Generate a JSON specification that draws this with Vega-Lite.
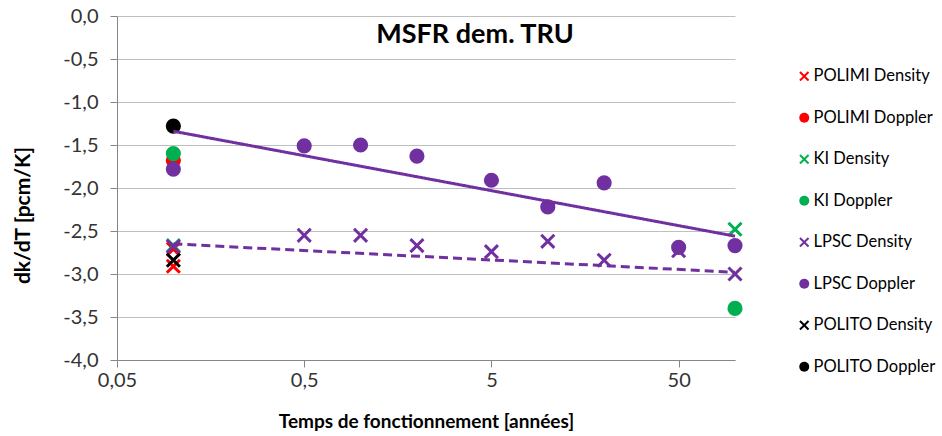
{
  "$schema": "https://vega.github.io/schema/vega-lite/v6.json",
  "width": 618,
  "height": 344,
  "autosize": {"type": "none"},
  "padding": {"left": 117, "top": 16, "right": 207, "bottom": 76},
  "background": "white",
  "config": {
    "font": "Lato",
    "view": {"stroke": null},
    "axis": {"labelFont": "Lato", "titleFont": "Lato", "labelColor": "#333333", "titleColor": "#000000"}
  },
  "title": {
    "text": "MSFR dem. TRU",
    "font": "Lato",
    "fontSize": 27,
    "fontWeight": "bold",
    "color": "#000000",
    "anchor": "middle",
    "frame": "group",
    "dx": 49,
    "offset": -64,
    "baseline": "alphabetic"
  },
  "datasets": {
    "points": [
      {"series": "POLIMI Density", "t": 0.1, "dkdT": -2.71},
      {"series": "POLIMI Density", "t": 0.1, "dkdT": -2.91},
      {"series": "POLIMI Doppler", "t": 0.1, "dkdT": -1.68},
      {"series": "KI Density", "t": 0.1, "dkdT": -2.67},
      {"series": "KI Density", "t": 100, "dkdT": -2.48},
      {"series": "KI Doppler", "t": 0.1, "dkdT": -1.6},
      {"series": "KI Doppler", "t": 100, "dkdT": -3.4},
      {"series": "LPSC Density", "t": 0.1, "dkdT": -2.68},
      {"series": "LPSC Density", "t": 0.5, "dkdT": -2.55},
      {"series": "LPSC Density", "t": 1, "dkdT": -2.55},
      {"series": "LPSC Density", "t": 2, "dkdT": -2.67},
      {"series": "LPSC Density", "t": 5, "dkdT": -2.74},
      {"series": "LPSC Density", "t": 10, "dkdT": -2.62},
      {"series": "LPSC Density", "t": 20, "dkdT": -2.84},
      {"series": "LPSC Density", "t": 50, "dkdT": -2.73},
      {"series": "LPSC Density", "t": 100, "dkdT": -3.0},
      {"series": "LPSC Doppler", "t": 0.1, "dkdT": -1.78},
      {"series": "LPSC Doppler", "t": 0.5, "dkdT": -1.51},
      {"series": "LPSC Doppler", "t": 1, "dkdT": -1.5},
      {"series": "LPSC Doppler", "t": 2, "dkdT": -1.63},
      {"series": "LPSC Doppler", "t": 5, "dkdT": -1.91},
      {"series": "LPSC Doppler", "t": 10, "dkdT": -2.22},
      {"series": "LPSC Doppler", "t": 20, "dkdT": -1.94},
      {"series": "LPSC Doppler", "t": 50, "dkdT": -2.69},
      {"series": "LPSC Doppler", "t": 100, "dkdT": -2.67},
      {"series": "POLITO Density", "t": 0.1, "dkdT": -2.84},
      {"series": "POLITO Doppler", "t": 0.1, "dkdT": -1.28}
    ],
    "trends": [
      {"trend": "Doppler", "t": 0.1, "dkdT": -1.34},
      {"trend": "Doppler", "t": 100, "dkdT": -2.56},
      {"trend": "Density", "t": 0.1, "dkdT": -2.65},
      {"trend": "Density", "t": 100, "dkdT": -2.98}
    ]
  },
  "encoding": {
    "x": {
      "field": "t",
      "type": "quantitative",
      "scale": {"type": "log", "domain": [0.05, 100], "nice": false},
      "axis": {
        "title": "Temps de fonctionnement [années]",
        "titleFontSize": 19,
        "titleFontWeight": "bold",
        "titleBaseline": "middle",
        "titleY": 61,
        "values": [0.05, 0.5, 5, 50],
        "labelExpr": "replace(datum.value + '', '.', ',')",
        "labelFontSize": 20,
        "labelPadding": 3,
        "labelFlush": false,
        "grid": false,
        "tickSize": 7,
        "tickColor": "#868686",
        "domainColor": "#868686"
      }
    },
    "y": {
      "field": "dkdT",
      "type": "quantitative",
      "scale": {"domain": [-4, 0], "nice": false, "zero": false},
      "axis": {
        "title": "dk/dT  [pcm/K]",
        "titleFontSize": 21,
        "titleFontWeight": "bold",
        "titleBaseline": "middle",
        "titleX": -94,
        "titleY": 199,
        "values": [-4, -3.5, -3, -2.5, -2, -1.5, -1, -0.5, 0],
        "labelExpr": "replace(replace(format(datum.value, '.1f'), '.', ','), '\u2212', '-')",
        "labelFontSize": 20,
        "labelPadding": 12,
        "grid": true,
        "gridColor": "#bfbfbf",
        "gridWidth": 1.2,
        "tickSize": 7,
        "tickColor": "#868686",
        "domainColor": "#868686"
      }
    }
  },
  "layer": [
    {
      "data": {"name": "points"},
      "mark": {"type": "point", "filled": true, "opacity": 1, "size": 230},
      "encoding": {
        "color": {
          "field": "series",
          "type": "nominal",
          "scale": {
            "domain": ["POLIMI Density", "POLIMI Doppler", "KI Density", "KI Doppler", "LPSC Density", "LPSC Doppler", "POLITO Density", "POLITO Doppler"],
            "range": ["#FF0000", "#FF0000", "#00B050", "#00B050", "#7030A0", "#7030A0", "#000000", "#000000"]
          },
          "legend": {
            "title": null,
            "orient": "none",
            "legendX": 679,
            "legendY": 52,
            "padding": 0,
            "symbolSize": 100,
            "symbolStrokeWidth": 0,
            "labelFont": "Lato",
            "labelFontSize": 16.5,
            "labelColor": "#000000",
            "labelOffset": 1,
            "rowPadding": 24.5,
            "labelLimit": 200
          }
        },
        "shape": {
          "field": "series",
          "type": "nominal",
          "scale": {
            "domain": ["POLIMI Density", "POLIMI Doppler", "KI Density", "KI Doppler", "LPSC Density", "LPSC Doppler", "POLITO Density", "POLITO Doppler"],
            "range": [
              "M-1,-0.72L-0.72,-1L0,-0.28L0.72,-1L1,-0.72L0.28,0L1,0.72L0.72,1L0,0.28L-0.72,1L-1,0.72L-0.28,0Z",
              "circle",
              "M-1,-0.72L-0.72,-1L0,-0.28L0.72,-1L1,-0.72L0.28,0L1,0.72L0.72,1L0,0.28L-0.72,1L-1,0.72L-0.28,0Z",
              "circle",
              "M-1,-0.72L-0.72,-1L0,-0.28L0.72,-1L1,-0.72L0.28,0L1,0.72L0.72,1L0,0.28L-0.72,1L-1,0.72L-0.28,0Z",
              "circle",
              "M-1,-0.72L-0.72,-1L0,-0.28L0.72,-1L1,-0.72L0.28,0L1,0.72L0.72,1L0,0.28L-0.72,1L-1,0.72L-0.28,0Z",
              "circle"
            ]
          },
          "legend": {
            "title": null,
            "orient": "none",
            "legendX": 679,
            "legendY": 52,
            "padding": 0,
            "symbolSize": 100,
            "symbolStrokeWidth": 0,
            "labelFont": "Lato",
            "labelFontSize": 16.5,
            "labelColor": "#000000",
            "labelOffset": 1,
            "rowPadding": 24.5,
            "labelLimit": 200
          }
        }
      }
    },
    {
      "data": {"name": "trends"},
      "mark": {"type": "line", "color": "#7030A0", "strokeWidth": 3},
      "encoding": {
        "detail": {"field": "trend", "type": "nominal"},
        "strokeDash": {
          "field": "trend",
          "type": "nominal",
          "scale": {"domain": ["Doppler", "Density"], "range": [[1, 0], [9, 5]]},
          "legend": null
        }
      }
    }
  ]
}
